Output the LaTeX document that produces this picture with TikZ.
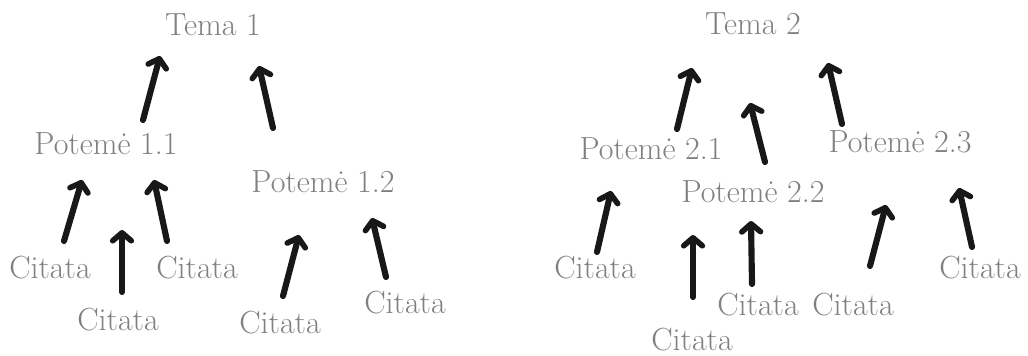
\documentclass[tikz,border=0pt]{standalone}
\usetikzlibrary{arrows.meta}
\definecolor{labelgray}{RGB}{128,128,128}
\definecolor{ink}{RGB}{24,24,24}
\tikzset{
  label/.style={font=\fontsize{24}{28}\selectfont, text=labelgray, inner sep=0pt, anchor=base},
  uparrow/.style={draw=ink, line width=4.6pt, line cap=round,
    -{Straight Barb[round, length=6pt, width=14pt, line width=4.2pt]}},
}
\begin{document}
\begin{tikzpicture}[x=0.75pt, y=-0.75pt]
\useasboundingbox (0,0) rectangle (1028,356);

% ---- first theme ----
\node[label] (t1)   at (213,36)  {Tema 1};
\node[label] (p11)  at (106,155) {Potemė 1.1};
\node[label] (p12)  at (323,193) {Potemė 1.2};
\node[label] (c1)   at (50,278)  {Citata};
\node[label] (c2)   at (118,330) {Citata};
\node[label] (c3)   at (197,278) {Citata};
\node[label] (c4)   at (280,333) {Citata};
\node[label] (c5)   at (405,313) {Citata};

% ---- second theme ----
\node[label] (t2)   at (753,35)  {Tema 2};
\node[label] (p21)  at (651,160) {Potemė 2.1};
\node[label] (p22)  at (753,203) {Potemė 2.2};
\node[label] (p23)  at (900,153) {Potemė 2.3};
\node[label] (d1)   at (595,278) {Citata};
\node[label] (d2)   at (692,350) {Citata};
\node[label] (d3)   at (758,315) {Citata};
\node[label] (d4)   at (853,315) {Citata};
\node[label] (d5)   at (980,278) {Citata};

% arrow ends (tail -> tip)
\coordinate (a1s) at (143,120); \coordinate (a1e) at (160,56);
\coordinate (a2s) at (273,128); \coordinate (a2e) at (259,66);
\coordinate (a3s) at (64,241);  \coordinate (a3e) at (82,180);
\coordinate (a4s) at (122,292); \coordinate (a4e) at (122,230);
\coordinate (a5s) at (167,241); \coordinate (a5e) at (154,180);
\coordinate (a6s) at (283,296); \coordinate (a6e) at (299,235);
\coordinate (a7s) at (386,277); \coordinate (a7e) at (372,218);

\coordinate (b1s) at (677,129); \coordinate (b1e) at (692,68);
\coordinate (b2s) at (765,162); \coordinate (b2e) at (750,103);
\coordinate (b3s) at (842,124); \coordinate (b3e) at (828,63);
\coordinate (b4s) at (597,252); \coordinate (b4e) at (611,191);
\coordinate (b5s) at (693,297); \coordinate (b5e) at (693,235);
\coordinate (b6s) at (752,284); \coordinate (b6e) at (751,221);
\coordinate (b7s) at (870,266); \coordinate (b7e) at (886,205);
\coordinate (b8s) at (972,247); \coordinate (b8e) at (959,188);

\foreach \s/\e in {a1s/a1e,a2s/a2e,a3s/a3e,a4s/a4e,a5s/a5e,a6s/a6e,a7s/a7e,
                   b1s/b1e,b2s/b2e,b3s/b3e,b4s/b4e,b5s/b5e,b6s/b6e,b7s/b7e,b8s/b8e}
  \draw[uparrow] (\s) -- (\e);
\end{tikzpicture}
\end{document}
